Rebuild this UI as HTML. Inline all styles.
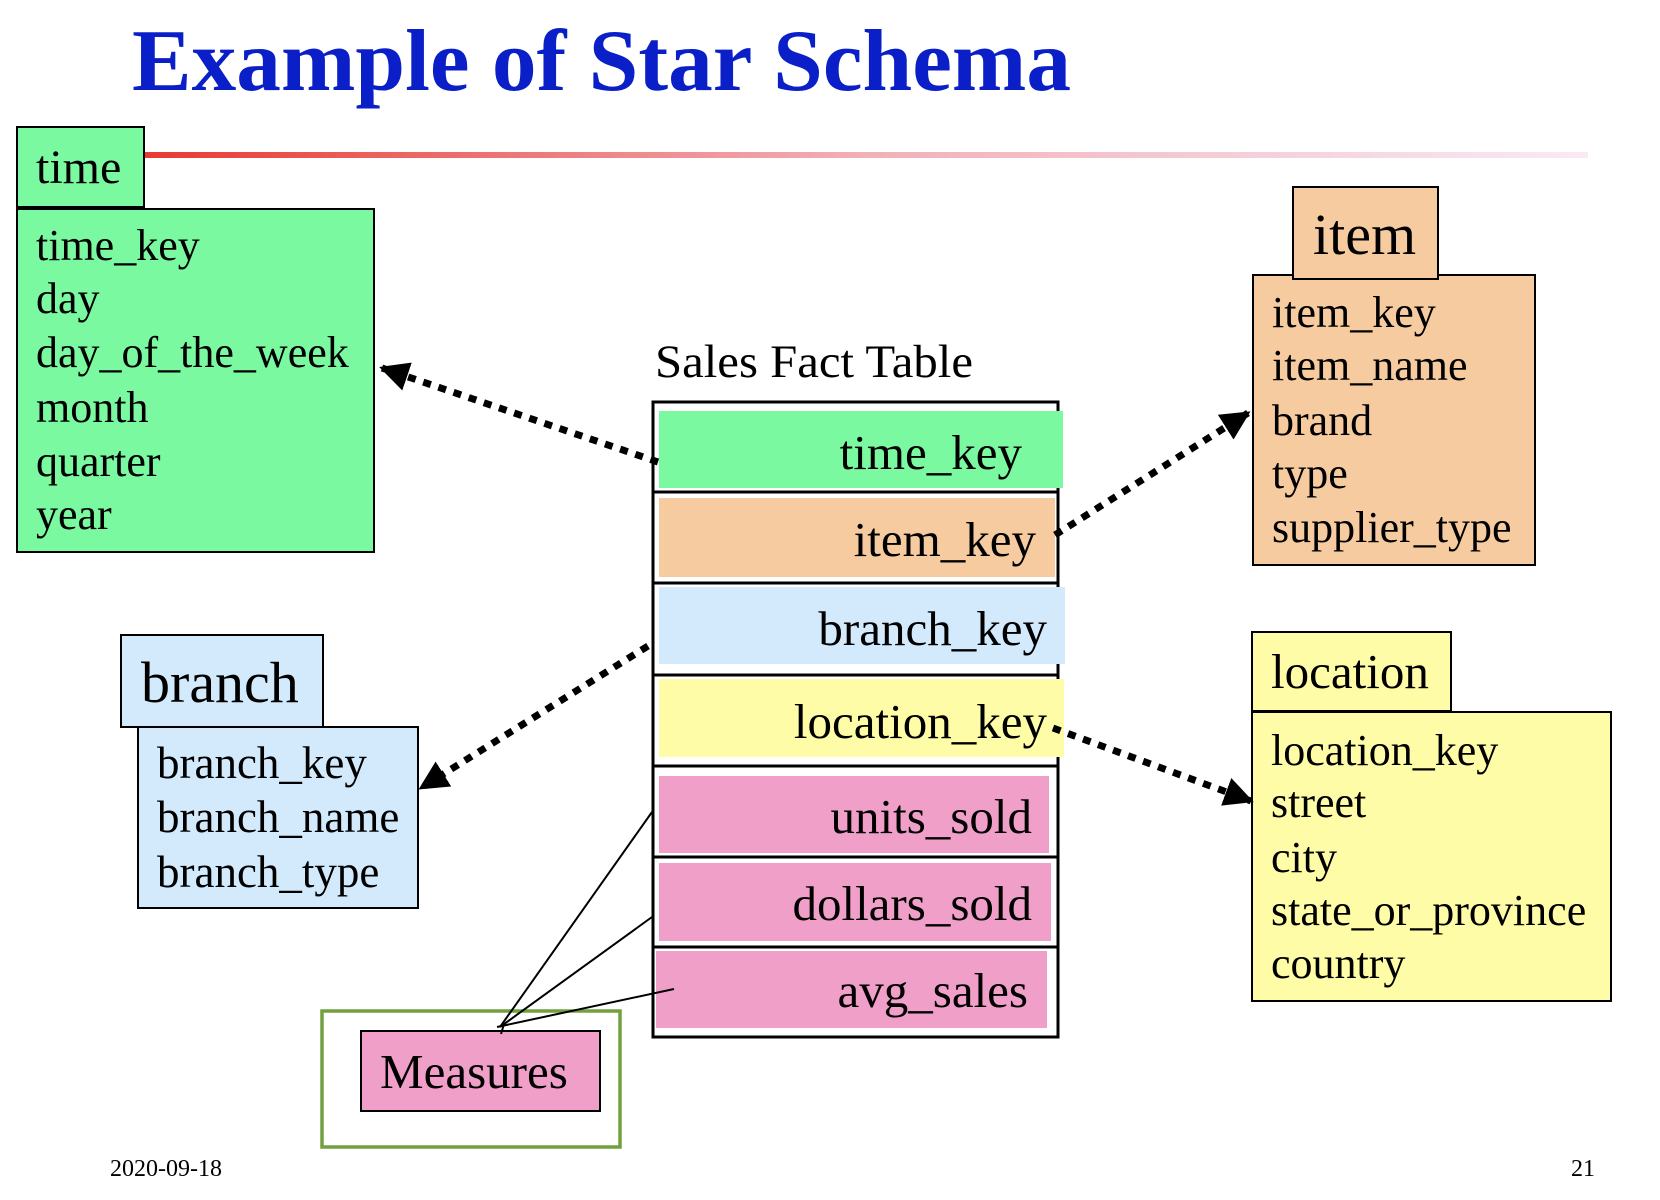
<!DOCTYPE html>
<html><head><meta charset="utf-8"><style>
html,body{margin:0;padding:0;background:#fff;}
svg{display:block;}
text{font-family:"Liberation Serif",serif;fill:#000;}
</style></head><body>
<svg width="1660" height="1200" viewBox="0 0 1660 1200" xmlns="http://www.w3.org/2000/svg">
<defs>
<linearGradient id="rl" x1="0" x2="1" y1="0" y2="0">
<stop offset="0" stop-color="#e83a32"/>
<stop offset="0.5" stop-color="#f2b0b8"/>
<stop offset="1" stop-color="#f8eaf6"/>
</linearGradient>
<marker id="ah" viewBox="0 0 10 10" refX="9" refY="5" markerWidth="4.2" markerHeight="4.2" orient="auto" markerUnits="strokeWidth">
<path d="M0,0 L10,5 L0,10 z" fill="#000"/>
</marker>
</defs>

<text x="132" y="90" font-size="88" font-weight="bold" style="fill:#0a1fc8" textLength="939" lengthAdjust="spacingAndGlyphs">Example of Star Schema</text>
<rect x="144" y="152" width="1444" height="6" fill="url(#rl)"/>

<!-- time -->
<rect x="17" y="209" width="357" height="343" fill="#7af9a0" stroke="#000" stroke-width="2"/>
<rect x="17" y="127" width="127" height="80" fill="#7af9a0" stroke="#000" stroke-width="2"/>
<text x="36" y="183" font-size="48">time</text>
<g font-size="44">
<text x="36" y="260">time_key</text>
<text x="36" y="313">day</text>
<text x="36" y="367">day_of_the_week</text>
<text x="36" y="422">month</text>
<text x="36" y="476">quarter</text>
<text x="36" y="529">year</text>
</g>

<!-- item -->
<rect x="1253" y="275" width="282" height="290" fill="#f6cba0" stroke="#000" stroke-width="2"/>
<rect x="1293" y="187" width="145" height="92" fill="#f6cba0" stroke="#000" stroke-width="2"/>
<text x="1313" y="254" font-size="58">item</text>
<g font-size="44">
<text x="1272" y="327">item_key</text>
<text x="1272" y="380">item_name</text>
<text x="1272" y="435">brand</text>
<text x="1272" y="488">type</text>
<text x="1272" y="542">supplier_type</text>
</g>

<!-- location -->
<rect x="1252" y="712" width="359" height="289" fill="#fefca6" stroke="#000" stroke-width="2"/>
<rect x="1252" y="632" width="199" height="79" fill="#fefca6" stroke="#000" stroke-width="2"/>
<text x="1271" y="688" font-size="49">location</text>
<g font-size="44">
<text x="1271" y="765">location_key</text>
<text x="1271" y="817">street</text>
<text x="1271" y="872">city</text>
<text x="1271" y="925">state_or_province</text>
<text x="1271" y="978">country</text>
</g>

<!-- branch -->
<rect x="121" y="635" width="202" height="92" fill="#d3eafc" stroke="#000" stroke-width="2"/>
<rect x="138" y="727" width="280" height="181" fill="#d3eafc" stroke="#000" stroke-width="2"/>
<text x="141" y="702" font-size="58">branch</text>
<g font-size="45">
<text x="157" y="778">branch_key</text>
<text x="157" y="832">branch_name</text>
<text x="157" y="887">branch_type</text>
</g>

<!-- fact table -->
<text x="655" y="377" font-size="47" textLength="318" lengthAdjust="spacingAndGlyphs">Sales Fact Table</text>
<g stroke="#000" stroke-width="3" fill="#fff">
<rect x="653" y="402" width="405" height="90"/>
<rect x="653" y="492" width="405" height="91"/>
<rect x="653" y="583" width="405" height="92"/>
<rect x="653" y="675" width="405" height="91"/>
<rect x="653" y="766" width="405" height="91"/>
<rect x="653" y="857" width="405" height="90"/>
<rect x="653" y="947" width="405" height="90"/>
</g>
<rect x="659" y="411" width="404" height="77" fill="#7af9a0"/>
<rect x="659" y="498" width="396" height="79" fill="#f6cba0"/>
<rect x="659" y="587" width="406" height="77" fill="#d3eafc"/>
<rect x="659" y="679" width="405" height="78" fill="#fefca6"/>
<rect x="659" y="776" width="390" height="77" fill="#f09fc9"/>
<rect x="659" y="863" width="392" height="78" fill="#f09fc9"/>
<rect x="656" y="951" width="391" height="77" fill="#f09fc9"/>
<g font-size="49" text-anchor="end">
<text x="1022" y="469">time_key</text>
<text x="1036" y="556">item_key</text>
<text x="1047" y="645">branch_key</text>
<text x="1047" y="738">location_key</text>
<text x="1032" y="833">units_sold</text>
<text x="1032" y="920">dollars_sold</text>
<text x="1028" y="1007">avg_sales</text>
</g>

<!-- dotted arrows -->
<g stroke="#000" stroke-width="7" stroke-dasharray="8 8" fill="none" marker-end="url(#ah)">
<line x1="658" y1="462" x2="382" y2="368"/>
<line x1="1055" y1="535" x2="1248" y2="413"/>
<line x1="648" y1="646" x2="421" y2="788"/>
<line x1="1053" y1="728" x2="1251" y2="801"/>
</g>

<!-- measures -->
<rect x="322" y="1011" width="298" height="136" fill="none" stroke="#72a040" stroke-width="3.5"/>
<rect x="361" y="1031" width="239" height="80" fill="#f09fc9" stroke="#000" stroke-width="2"/>
<text x="380" y="1088" font-size="49">Measures</text>
<g stroke="#000" stroke-width="2" fill="none">
<line x1="652" y1="812" x2="500" y2="1027"/>
<line x1="652" y1="917" x2="500" y2="1027"/>
<line x1="674" y1="989" x2="497" y2="1027"/>
<line x1="504" y1="1024" x2="501" y2="1034"/>
</g>

<text x="110" y="1176" font-size="24">2020-09-18</text>
<text x="1595" y="1176" font-size="24" text-anchor="end">21</text>
</svg>
</body></html>
